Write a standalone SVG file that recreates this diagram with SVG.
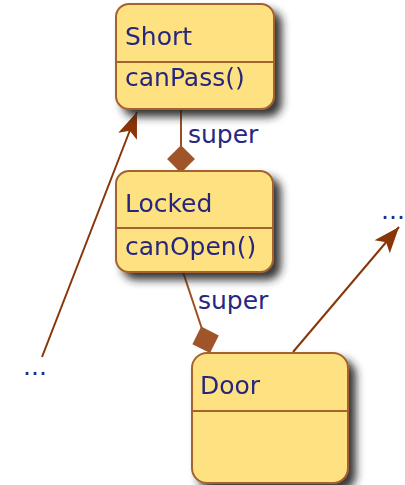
<svg xmlns="http://www.w3.org/2000/svg" width="405" height="485" viewBox="0 0 405 485">
  <defs>
    <filter id="shadow" x="-20%" y="-20%" width="150%" height="150%">
      <feGaussianBlur in="SourceAlpha" stdDeviation="4.5"/>
      <feOffset dx="7" dy="7" result="blur"/>
      <feFlood flood-color="#222222" flood-opacity="0.9"/>
      <feComposite in2="blur" operator="in"/>
      <feMerge>
        <feMergeNode/>
        <feMergeNode in="SourceGraphic"/>
      </feMerge>
    </filter>
    <marker id="diamond" markerUnits="userSpaceOnUse" markerWidth="30" markerHeight="30" viewBox="-1 -14 28 28" refX="26" refY="0" orient="auto">
      <path d="M0,0 L13,-13 L26,0 L13,13 Z" fill="#a0542a"/>
    </marker>
    <marker id="arrow" markerUnits="userSpaceOnUse" markerWidth="28" markerHeight="22" viewBox="-27 -11 28 22" refX="0" refY="0" orient="auto">
      <path d="M0,0 L-26,-10 L-20,0 L-26,10 Z" fill="#883508"/>
    </marker>
  </defs>
  <style>
    .box { fill: #fee282; stroke: #a4622e; stroke-width: 2; }
    .div { stroke: #a4622e; stroke-width: 2; }
    .label { font-family: "DejaVu Sans", Verdana, sans-serif; font-size: 25px; fill: #27287f; }
    .comp { fill: none; stroke: #9a4e22; stroke-width: 2; }
    .dep { fill: none; stroke: #883508; stroke-width: 2; }
  </style>

  <g id="connectors">
    <line class="comp" x1="181" y1="109" x2="181" y2="173" marker-end="url(#diamond)"/>
    <text class="label" x="188" y="143">super</text>
    <line class="comp" x1="183" y1="272" x2="210" y2="353" marker-end="url(#diamond)"/>
    <text class="label" x="198" y="309">super</text>
    <line class="dep" x1="42" y1="357" x2="137" y2="112" marker-end="url(#arrow)"/>
    <line class="dep" x1="293" y1="352" x2="399" y2="227" marker-end="url(#arrow)"/>
  </g>

  <g id="node-short" filter="url(#shadow)">
    <rect class="box" x="116" y="4" width="158" height="105" rx="13"/>
    <line class="div" x1="116" y1="62" x2="274" y2="62"/>
    <text class="label" x="125" y="45">Short</text>
    <text class="label" x="125" y="86">canPass()</text>
  </g>

  <g id="node-locked" filter="url(#shadow)">
    <rect class="box" x="116" y="171" width="157" height="101" rx="13"/>
    <line class="div" x1="116" y1="228" x2="273" y2="228"/>
    <text class="label" x="125" y="212">Locked</text>
    <text class="label" x="125" y="255">canOpen()</text>
  </g>

  <g id="node-door" filter="url(#shadow)">
    <rect class="box" x="192" y="353" width="156" height="130" rx="15"/>
    <line class="div" x1="192" y1="411" x2="348" y2="411"/>
    <text class="label" x="200" y="394">Door</text>
  </g>

  <g id="node-more-left">
    <text class="label" x="23" y="375">...</text>
  </g>
  <g id="node-more-right">
    <text class="label" x="381" y="219">...</text>
  </g>
</svg>
